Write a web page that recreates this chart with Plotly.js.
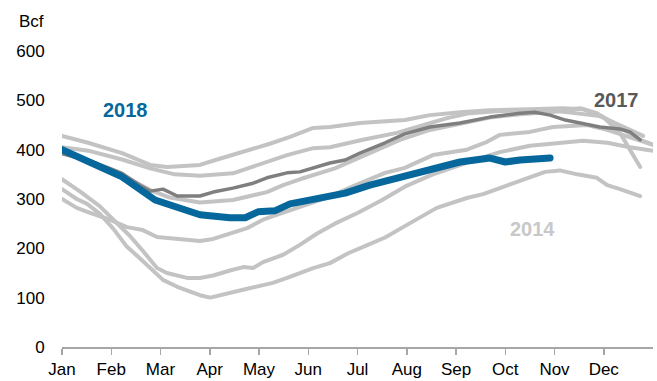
<!DOCTYPE html>
<html>
<head>
<meta charset="utf-8">
<script src="https://cdn.plot.ly/plotly-3.0.1.min.js"></script>
<style>html,body{margin:0;padding:0;background:#fff;}#chart{width:657px;height:381px;}</style>
</head>
<body>
<div id="chart"></div>
<script>
// x values are months since Jan 1 (0 = Jan 1, 12 = Dec 31)
var monthLabels = ["Jan","Feb","Mar","Apr","May","Jun","Jul","Aug","Sep","Oct","Nov","Dec"];
var yTicks = [0,100,200,300,400,500,600];

var g1x = [0,0.53,1.22,1.79,2.13,2.80,3.15,3.47,3.88,4.22,4.63,5.10,5.44,6.05,6.96,7.47,8.08,8.69,9.50,10.17,10.58,10.99,11.33,11.74];
var g1y = [428,414,393,369,365,369,380,389,402,412,426,444,446,454,460,470,476,480,482,484,482,466,434,365];

var g2x = [0,0.53,1.22,1.79,2.29,2.80,3.47,3.88,4.57,5.10,5.44,6.11,6.80,7.21,7.82,8.28,8.83,9.50,10.17,10.52,10.86,11.19,11.74,12.0];
var g2y = [405,398,380,362,350,347,352,365,389,403,405,420,434,446,464,474,478,480,480,484,474,454,420,410];

var g3x = [0,0.77,1.38,1.79,2.19,2.80,3.47,4.16,4.49,4.83,5.54,6.05,6.86,7.47,8.08,8.69,9.30,10.11,10.92,11.53,11.80];
var g3y = [395,368,340,318,303,293,298,314,328,340,362,385,420,440,452,465,472,478,468,440,428];

var g4x = [0,0.30,0.57,0.97,1.32,1.64,1.93,2.34,2.80,3.07,3.47,3.76,4.08,4.49,4.83,5.44,5.89,6.56,6.96,7.53,8.22,8.63,8.89,9.50,9.97,10.66,11.07,11.53,12.0];
var g4y = [300,282,272,258,243,237,223,219,215,219,231,241,258,272,285,305,325,353,363,389,400,416,430,436,446,450,440,425,410];

var g5x = [0,0.37,0.77,1.12,1.38,1.64,1.93,2.13,2.54,2.80,3.07,3.41,3.68,3.88,4.08,4.49,4.83,5.18,5.54,6.01,6.50,6.96,7.53,8.35,8.89,9.50,10.11,10.58,11.07,11.53,12.0];
var g5y = [340,315,285,250,225,195,160,150,140,140,145,155,162,160,172,187,207,230,250,272,298,325,350,378,395,408,414,418,414,405,398];

var y2014x = [0,0.30,0.51,0.77,1.04,1.32,1.58,1.85,2.05,2.34,2.80,3.01,3.47,3.76,4.02,4.28,4.57,4.83,5.10,5.44,5.81,6.21,6.56,6.96,7.61,8.22,8.55,8.89,9.50,9.81,10.11,10.46,10.86,11.07,11.33,11.74];
var y2014y = [320,300,290,270,240,203,180,156,136,122,105,100,112,118,124,130,140,150,160,170,190,207,222,245,282,302,310,322,343,355,358,350,343,328,320,306];

var y2017x = [0,0.57,0.97,1.22,1.58,1.79,2.05,2.34,2.80,3.07,3.47,3.88,4.16,4.57,4.83,5.10,5.44,5.75,6.05,6.56,6.96,7.47,8.08,8.69,9.30,9.60,9.91,10.22,10.52,10.92,11.33,11.53,11.74];
var y2017y = [392,377,362,352,328,316,320,306,306,314,322,332,343,353,355,363,373,379,393,414,432,446,454,466,474,476,470,460,454,446,442,436,420];

var y2018x = [0,0.53,1.22,1.89,2.29,2.80,3.41,3.72,3.98,4.32,4.63,5.44,5.75,6.25,6.96,7.47,8.08,8.69,9.00,9.30,9.91];
var y2018y = [400,375,345,298,284,268,262,262,274,276,290,304,312,328,347,359,375,383,375,379,383];

var lightGray = "#c3c3c3";
function grayTrace(x, y){
  return {x:x, y:y, type:"scatter", mode:"lines", line:{color:lightGray, width:4}, hoverinfo:"skip", showlegend:false};
}
var traces = [
  grayTrace(g1x,g1y), grayTrace(g2x,g2y), grayTrace(g3x,g3y),
  grayTrace(g4x,g4y), grayTrace(g5x,g5y), grayTrace(y2014x,y2014y),
  {x:y2017x, y:y2017y, type:"scatter", mode:"lines", line:{color:"#7f7f7f", width:3.5}, showlegend:false},
  {x:y2018x, y:y2018y, type:"scatter", mode:"lines", line:{color:"#05679b", width:7}, showlegend:false}
];

var font = "Liberation Sans, Arial, sans-serif";
var layout = {
  width:657, height:381,
  margin:{l:62, r:4, t:51, b:34},
  paper_bgcolor:"#ffffff", plot_bgcolor:"#ffffff",
  font:{family:font, size:17, color:"#000"},
  showlegend:false,
  xaxis:{
    range:[0,12], tickvals:[0,1,2,3,4,5,6,7,8,9,10,11], ticktext:monthLabels,
    ticks:"outside", ticklen:6, tickwidth:1.5, tickcolor:"#a6a6a6",
    showline:true, linecolor:"#a6a6a6", linewidth:1.5,
    showgrid:false, zeroline:false, fixedrange:true,
    tickfont:{family:font, size:17, color:"#000"}
  },
  yaxis:{
    range:[0,600], tickvals:yTicks, ticktext:yTicks.map(String),
    ticks:"outside", ticklen:13, tickcolor:"rgba(0,0,0,0)",
    showline:false, showgrid:false, zeroline:false, fixedrange:true,
    tickfont:{family:font, size:17, color:"#000"}
  },
  annotations:[
    {text:"Bcf", xref:"paper", yref:"paper", x:-0.051, y:1.101, xanchor:"center", yanchor:"middle", showarrow:false, font:{family:font, size:17, color:"#000"}},
    {text:"<b>2018</b>", xref:"x", yref:"y", x:1.28, y:480, xanchor:"center", yanchor:"middle", showarrow:false, font:{family:font, size:20, color:"#05679b"}},
    {text:"<b>2017</b>", xref:"x", yref:"y", x:11.25, y:501, xanchor:"center", yanchor:"middle", showarrow:false, font:{family:font, size:20, color:"#595959"}},
    {text:"<b>2014</b>", xref:"x", yref:"y", x:9.56, y:239, xanchor:"center", yanchor:"middle", showarrow:false, font:{family:font, size:20, color:"#c8c8c8"}}
  ]
};
Plotly.newPlot("chart", traces, layout, {staticPlot:true, displayModeBar:false}).then(function(){
  var paths = document.querySelectorAll(".scatterlayer .trace path.js-line");
  paths.forEach(function(p){ p.style.strokeLinecap = "round"; p.style.strokeLinejoin = "round"; });
});
</script>
</body>
</html>
